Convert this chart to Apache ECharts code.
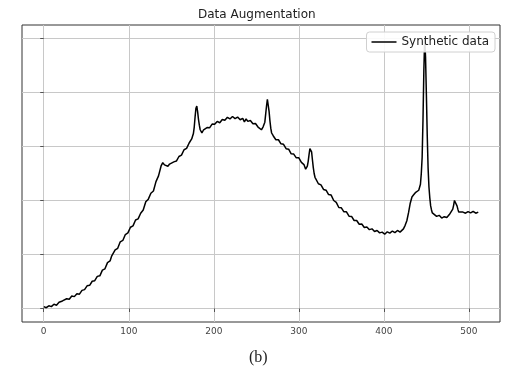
<!DOCTYPE html>
<html>
<head>
<meta charset="utf-8">
<title>Data Augmentation</title>
<script src="https://cdn.jsdelivr.net/npm/echarts@6/dist/echarts.min.js"></script>
<style>
  html, body { margin: 0; padding: 0; background: #fff; }
  #chart { width: 508px; height: 370px; }
</style>
</head>
<body>
<div id="chart"></div>
<script>
// Synthetic spectrum: sample index and normalised intensity
const xValues = [
  0, 3, 6, 9, 12, 15, 18, 20, 22, 24, 27, 30, 33, 36, 39, 42, 45, 48, 51, 54,
  57, 60, 63, 66, 69, 72, 75, 78, 80, 82, 84, 87, 90, 93, 96, 99, 102, 105, 108, 111,
  114, 117, 120, 123, 126, 129, 132, 135, 138, 140, 142, 144, 146, 148, 150, 153, 156, 159, 162, 165,
  168, 171, 173, 174, 175, 176, 177, 178, 179, 180, 181, 182, 183, 184, 185, 186, 188, 190, 192, 195,
  198, 201, 204, 207, 210, 213, 216, 219, 222, 225, 228, 231, 234, 236, 238, 240, 243, 246, 249, 252,
  254, 256, 258, 260, 261, 262, 263, 264, 265, 266, 267, 268, 270, 273, 276, 279, 282, 285, 288, 291,
  294, 297, 300, 303, 306, 308, 309, 310, 311, 312, 313, 314, 315, 316, 317, 318, 319, 320, 323, 326,
  329, 332, 335, 338, 341, 344, 347, 350, 353, 356, 359, 362, 365, 368, 371, 374, 377, 380, 383, 386,
  389, 392, 395, 398, 401, 404, 407, 410, 413, 416, 419, 421, 423, 425, 427, 429, 431, 433, 435, 437,
  439, 441, 442, 443, 444, 445, 446, 447, 448, 449, 450, 451, 452, 453, 454, 455, 456, 457, 459, 462,
  465, 468, 471, 474, 477, 479, 481, 482, 483, 484, 485, 486, 487, 488, 490, 493, 496, 499, 502, 505,
  508, 511
];
const yValues = [
  0.007, 0.003, 0.010, 0.007, 0.016, 0.012, 0.023, 0.018, 0.028, 0.025, 0.036, 0.034, 0.046, 0.044, 0.055, 0.053, 0.067, 0.070, 0.084, 0.086,
  0.101, 0.103, 0.119, 0.121, 0.142, 0.147, 0.170, 0.176, 0.195, 0.189, 0.217, 0.223, 0.247, 0.252, 0.274, 0.280, 0.301, 0.306, 0.328, 0.332,
  0.353, 0.365, 0.395, 0.405, 0.427, 0.435, 0.470, 0.491, 0.528, 0.540, 0.532, 0.538, 0.527, 0.535, 0.528, 0.543, 0.546, 0.563, 0.568, 0.588,
  0.593, 0.613, 0.612, 0.628, 0.632, 0.648, 0.672, 0.710, 0.742, 0.750, 0.728, 0.700, 0.679, 0.662, 0.655, 0.650, 0.662, 0.657, 0.670, 0.669,
  0.683, 0.682, 0.693, 0.688, 0.700, 0.697, 0.708, 0.702, 0.711, 0.703, 0.709, 0.699, 0.704, 0.691, 0.702, 0.693, 0.696, 0.684, 0.685, 0.672,
  0.670, 0.662, 0.673, 0.690, 0.720, 0.750, 0.775, 0.770, 0.730, 0.695, 0.668, 0.650, 0.639, 0.625, 0.625, 0.610, 0.608, 0.592, 0.590, 0.573,
  0.572, 0.558, 0.558, 0.541, 0.533, 0.516, 0.518, 0.527, 0.545, 0.570, 0.592, 0.596, 0.580, 0.550, 0.522, 0.500, 0.486, 0.481, 0.462, 0.458,
  0.441, 0.438, 0.422, 0.420, 0.400, 0.393, 0.374, 0.373, 0.358, 0.358, 0.342, 0.341, 0.326, 0.326, 0.312, 0.313, 0.300, 0.302, 0.292, 0.295,
  0.285, 0.289, 0.280, 0.283, 0.275, 0.284, 0.279, 0.287, 0.281, 0.289, 0.283, 0.289, 0.295, 0.308, 0.325, 0.355, 0.390, 0.413, 0.421, 0.429,
  0.431, 0.438, 0.442, 0.460, 0.500, 0.560, 0.700, 0.880, 1.000, 0.930, 0.790, 0.640, 0.520, 0.450, 0.410, 0.380, 0.365, 0.354, 0.349, 0.341,
  0.345, 0.335, 0.340, 0.337, 0.348, 0.353, 0.368, 0.382, 0.400, 0.405, 0.398, 0.380, 0.368, 0.357, 0.352, 0.357, 0.353, 0.359, 0.354, 0.360,
  0.353, 0.357
];
const xTicks = [0, 100, 200, 300, 400, 500];
const yTicks = [0, 0.2, 0.4, 0.6, 0.8, 1.0];

const seriesData = xValues.map((x, i) => [x, yValues[i]]);

const chart = echarts.init(document.getElementById('chart'), null, { renderer: 'canvas' });

chart.setOption({
  animation: false,
  backgroundColor: '#ffffff',
  title: [
    {
      text: 'Data Augmentation',
      left: 198,
      top: 9,
      padding: 0,
      textStyle: { fontFamily: 'DejaVu Sans', fontSize: 12, fontWeight: 'normal', color: '#222' }
    },
    {
      text: '(b)',
      left: 249,
      top: 350,
      padding: 0,
      textStyle: { fontFamily: 'Liberation Serif', fontSize: 16, fontWeight: 'normal', color: '#222' }
    }
  ],
  legend: {
    data: ['Synthetic data'],
    right: 13,
    top: 32,
    z: 10,
    padding: [4, 6, 4, 5],
    icon: 'rect',
    itemWidth: 25,
    itemHeight: 1.5,
    backgroundColor: 'rgba(255,255,255,0.88)',
    borderColor: '#d0d0d0',
    borderWidth: 1,
    borderRadius: 3,
    textStyle: { fontFamily: 'DejaVu Sans', fontSize: 12, color: '#222' }
  },
  grid: {
    left: 22,
    right: 8,
    top: 25,
    bottom: 48,
    show: true,
    borderColor: '#333',
    borderWidth: 1,
    backgroundColor: 'transparent'
  },
  xAxis: {
    type: 'value',
    min: -25.55,
    max: 536.55,
    axisLine: { show: false },
    axisTick: {
      show: true, inside: false, length: 3.5,
      customValues: xTicks,
      lineStyle: { color: '#333', width: 0.8 }
    },
    axisLabel: {
      show: true, customValues: xTicks, margin: 5,
      fontFamily: 'DejaVu Sans', fontSize: 9, color: '#444'
    },
    splitLine: { show: true, lineStyle: { color: '#c8c8c8', width: 1 } }
  },
  yAxis: {
    type: 'value',
    min: -0.05,
    max: 1.05,
    axisLine: { show: false },
    axisTick: {
      show: true, inside: false, length: 3.5,
      customValues: yTicks,
      lineStyle: { color: '#333', width: 0.8 }
    },
    axisLabel: { show: false, customValues: yTicks },
    splitLine: { show: true, lineStyle: { color: '#c8c8c8', width: 1 } }
  },
  series: [
    {
      name: 'Synthetic data',
      type: 'line',
      data: seriesData,
      showSymbol: false,
      symbol: 'none',
      color: '#000',
      lineStyle: { color: '#000', width: 1.5 },
      z: 3
    }
  ]
});
</script>
</body>
</html>
